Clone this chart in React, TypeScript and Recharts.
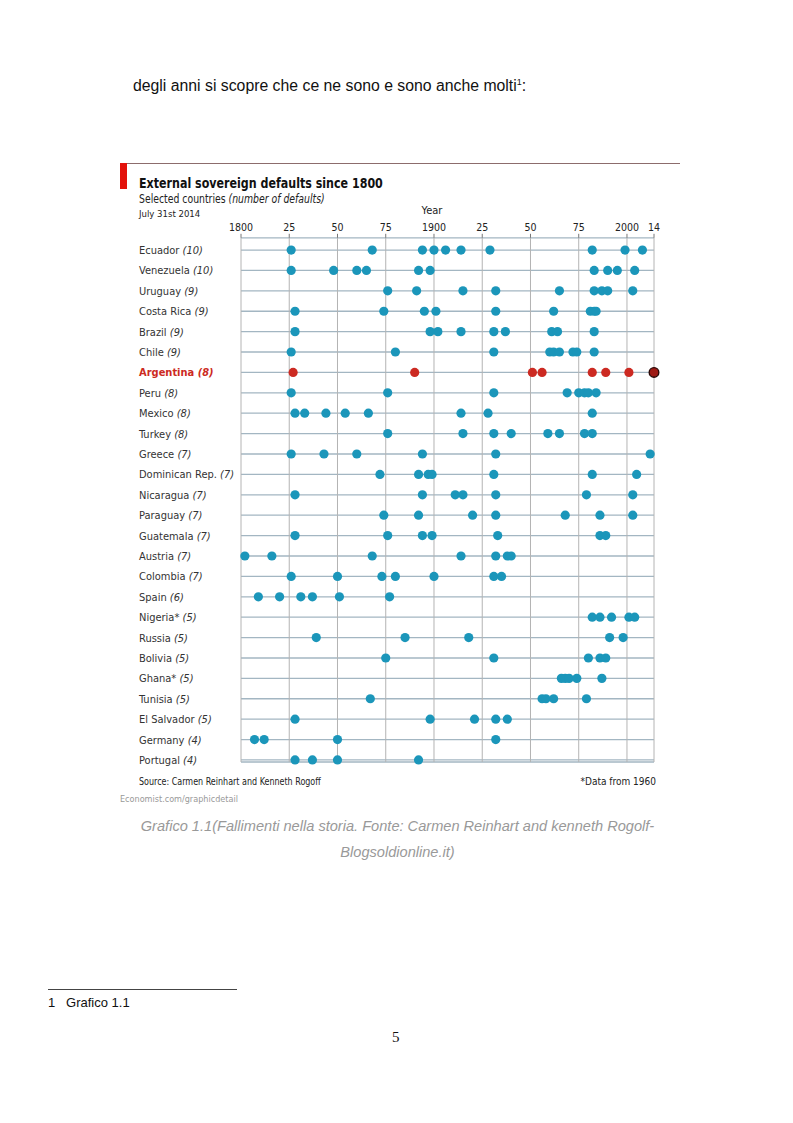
import { ScatterChart, Scatter, XAxis, YAxis, CartesianGrid, ReferenceLine } from "recharts"

// Countries in chart order, with number of defaults
const countries = [
  "Ecuador", "Venezuela", "Uruguay", "Costa Rica", "Brazil", "Chile", "Argentina", "Peru", "Mexico",
  "Turkey", "Greece", "Dominican Rep.", "Nicaragua", "Paraguay", "Guatemala", "Austria", "Colombia",
  "Spain", "Nigeria*", "Russia", "Bolivia", "Ghana*", "Tunisia", "El Salvador", "Germany", "Portugal",
]
const defaultCounts = [10, 10, 9, 9, 9, 9, 8, 8, 8, 8, 7, 7, 7, 7, 7, 7, 7, 6, 5, 5, 5, 5, 5, 5, 4, 4]

// Default years
const ecuador = [1826, 1868, 1894, 1900, 1906, 1914, 1929, 1982, 1999, 2008]
const venezuela = [1826, 1848, 1860, 1865, 1892, 1898, 1983, 1990, 1995, 2004]
const uruguay = [1876, 1891, 1915, 1932, 1965, 1983, 1987, 1990, 2003]
const costaRica = [1828, 1874, 1895, 1901, 1932, 1962, 1981, 1983, 1984]
const brazil = [1828, 1898, 1902, 1914, 1931, 1937, 1961, 1964, 1983]
const chile = [1826, 1880, 1931, 1960, 1962, 1965, 1972, 1974, 1983]
const argentina = [1827, 1890, 1951, 1956, 1982, 1989, 2001, 2014]
const peru = [1826, 1876, 1931, 1969, 1975, 1978, 1980, 1984]
const mexico = [1828, 1833, 1844, 1854, 1866, 1914, 1928, 1982]
const turkey = [1876, 1915, 1931, 1940, 1959, 1965, 1978, 1982]
const greece = [1826, 1843, 1860, 1894, 1932, 2012]
const dominicanRep = [1872, 1892, 1897, 1899, 1931, 1982, 2005]
const nicaragua = [1828, 1894, 1911, 1915, 1932, 1979, 2003]
const paraguay = [1874, 1892, 1920, 1932, 1968, 1986, 2003]
const guatemala = [1828, 1876, 1894, 1899, 1933, 1986, 1989]
const austria = [1802, 1816, 1868, 1914, 1932, 1938, 1940]
const colombia = [1826, 1850, 1873, 1880, 1900, 1931, 1935]
const spain = [1809, 1820, 1831, 1837, 1851, 1877]
const nigeria = [1982, 1986, 1992, 2001, 2004]
const russia = [1839, 1885, 1918, 1991, 1998]
const bolivia = [1875, 1931, 1980, 1986, 1989]
const ghana = [1966, 1968, 1970, 1974, 1987]
const tunisia = [1867, 1956, 1958, 1962, 1979]
const elSalvador = [1828, 1898, 1921, 1932, 1938]
const germany = [1807, 1812, 1850, 1932]
const portugal = [1828, 1837, 1850, 1892]

const defaultYears = [
  ecuador, venezuela, uruguay, costaRica, brazil, chile, argentina, peru, mexico, turkey, greece,
  dominicanRep, nicaragua, paraguay, guatemala, austria, colombia, spain, nigeria, russia, bolivia,
  ghana, tunisia, elSalvador, germany, portugal,
]

const yearTicks = [1800, 1825, 1850, 1875, 1900, 1925, 1950, 1975, 2000, 2014]
const yearTickLabels = ["1800", "25", "50", "75", "1900", "25", "50", "75", "2000", "14"]

const HIGHLIGHT = 6 // Argentina

const BLUE = "#1b96ba"
const RED = "#cc2a22"
const NARROW = '"Liberation Sans Narrow", "DejaVu Sans Condensed", sans-serif'
const PAGE = '"Liberation Sans", Arial, sans-serif'

const rowIndex = countries.map((_, i) => i)
const blueData = defaultYears.flatMap((years, row) =>
  row === HIGHLIGHT ? [] : years.map((year) => ({ year, row }))
)
const redData = defaultYears[HIGHLIGHT].map((year) => ({ year, row: HIGHLIGHT }))
const latestRed = Math.max(...defaultYears[HIGHLIGHT])

function CountryTick(props: any) {
  const { y, payload } = props
  const i = payload.value
  const hl = i === HIGHLIGHT
  return (
    <text
      x={19}
      y={y}
      dy={4}
      fontFamily={NARROW}
      fontSize={11}
      fill={hl ? RED : "#333"}
      fontWeight={hl ? "bold" : "normal"}
    >
      {countries[i]} <tspan fontStyle="italic">({defaultCounts[i]})</tspan>
    </text>
  )
}

function abs(left: number, top: number, extra: any = {}) {
  return { position: "absolute" as const, left, top, whiteSpace: "nowrap" as const, lineHeight: 1, ...extra }
}

const squeeze = (k: number) => ({ transform: `scaleX(${k})`, transformOrigin: "left top" })

export default function App() {
  return (
    <div style={{ position: "absolute", left: 0, top: 0, width: 793, height: 1123, background: "#fff" }}>
      <div style={abs(133, 78, { fontFamily: PAGE, fontSize: 15.8, color: "#111" })}>
        degli anni si scopre che ce ne sono e sono anche molti<sup style={{ fontSize: 9 }}>1</sup>:
      </div>

      {/* chart frame */}
      <div style={abs(120, 163, { width: 560, height: 1, background: "#8c6c6c" })} />
      <div style={abs(120, 163, { width: 7, height: 26, background: "#e3120b" })} />
      <div style={abs(139, 176, { fontFamily: NARROW, fontSize: 14.5, fontWeight: "bold", color: "#111", ...squeeze(0.85) })}>
        External sovereign defaults since 1800
      </div>
      <div style={abs(139, 194, { fontFamily: NARROW, fontSize: 11.5, color: "#222", ...squeeze(0.9) })}>
        Selected countries <i>(number of defaults)</i>
      </div>
      <div style={abs(139, 209, { fontFamily: NARROW, fontSize: 9.5, color: "#222" })}>July 31st 2014</div>
      <div style={abs(432, 205, { fontFamily: NARROW, fontSize: 11, color: "#222", transform: "translateX(-50%)" })}>
        Year
      </div>

      <div style={abs(120, 160)}>
        <ScatterChart width={560} height={620} margin={{ top: 57.8, right: 26, bottom: 18, left: 0 }}>
          <CartesianGrid vertical={false} stroke="#a3b6c2" strokeWidth={1.3} />
          {yearTicks.map((yr) => (
            <ReferenceLine key={yr} x={yr} stroke="#b4b4b4" strokeWidth={1} />
          ))}
          <XAxis
            type="number"
            dataKey="year"
            orientation="top"
            domain={[1800, 2014]}
            ticks={yearTicks}
            interval={0}
            tickFormatter={(v: number) => yearTickLabels[yearTicks.indexOf(v)]}
            axisLine={false}
            tickLine={{ stroke: "#777" }}
            tickSize={4}
            tickMargin={3}
            height={20}
            tick={{ fontSize: 10.5, fill: "#222", fontFamily: NARROW }}
          />
          <YAxis
            type="number"
            dataKey="row"
            reversed
            domain={[-0.6, 25.1]}
            ticks={rowIndex}
            interval={0}
            width={121}
            axisLine={false}
            tickLine={false}
            tick={<CountryTick />}
          />
          <Scatter
            data={blueData}
            isAnimationActive={false}
            shape={(p: any) => <circle cx={p.cx} cy={p.cy} r={4.6} fill={BLUE} />}
          />
          <Scatter
            data={redData}
            isAnimationActive={false}
            shape={(p: any) =>
              p.payload.year === latestRed ? (
                <circle cx={p.cx} cy={p.cy} r={4.8} fill="#9e1a14" stroke="#2a0a08" strokeWidth={1.4} />
              ) : (
                <circle cx={p.cx} cy={p.cy} r={4.6} fill={RED} />
              )
            }
          />
        </ScatterChart>
      </div>

      <div style={abs(139, 776.5, { fontFamily: NARROW, fontSize: 10, color: "#222", ...squeeze(0.89) })}>
        Source: Carmen Reinhart and Kenneth Rogoff
      </div>
      <div style={abs(656, 776.5, { fontFamily: NARROW, fontSize: 10, color: "#222", transform: "translateX(-100%)" })}>
        *Data from 1960
      </div>
      <div style={abs(120, 795, { fontFamily: NARROW, fontSize: 9, color: "#999" })}>Economist.com/graphicdetail</div>

      <div style={abs(0, 818.7, { width: 793, textAlign: "center", fontFamily: PAGE, fontSize: 14.6, fontStyle: "italic", color: "#999", paddingLeft: 2, boxSizing: "border-box" })}>
        Grafico 1.1(Fallimenti nella storia. Fonte: Carmen Reinhart and kenneth Rogolf-
      </div>
      <div style={abs(0, 845, { width: 793, textAlign: "center", fontFamily: PAGE, fontSize: 14.6, fontStyle: "italic", color: "#999", paddingLeft: 2, boxSizing: "border-box" })}>
        Blogsoldionline.it)
      </div>

      <div style={abs(48, 989, { width: 189, height: 1, background: "#444" })} />
      <div style={abs(48, 996, { fontFamily: PAGE, fontSize: 13, color: "#111" })}>1&nbsp;&nbsp;&nbsp;Grafico 1.1</div>
      <div style={abs(392, 1030, { fontFamily: '"Liberation Serif", serif', fontSize: 15, color: "#111" })}>5</div>
    </div>
  )
}
